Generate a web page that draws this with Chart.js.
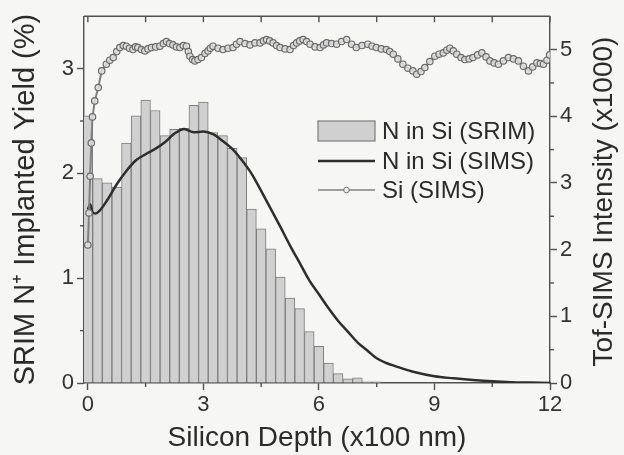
<!DOCTYPE html>
<html>
<head>
<meta charset="utf-8">
<script src="https://cdn.jsdelivr.net/npm/chart.js@4.4.1/dist/chart.umd.min.js"></script>
<style>
  html, body { margin: 0; padding: 0; background: #f6f6f4; }
  #wrap { width: 624px; height: 455px; position: relative; }
</style>
</head>
<body>
<div id="wrap"><canvas id="chart"></canvas></div>
<script>
// ========== DATA ==========

// SRIM histogram, 25 nm bins (x100 nm)
const srimDepth = [0, 0.25, 0.5, 0.75, 1, 1.25, 1.5, 1.75, 2, 2.25, 2.5, 2.75, 3, 3.25, 3.5, 3.75,
  4, 4.25, 4.5, 4.75, 5, 5.25, 5.5, 5.75, 6, 6.25, 6.5, 6.75, 7, 7.25, 7.5];
const srimYield = [2.55, 1.95, 1.91, 1.87, 2.29, 2.55, 2.70, 2.60, 2.36, 2.42, 2.43, 2.65, 2.68, 2.39, 2.36, 2.24,
  2.15, 1.66, 1.47, 1.28, 1.01, 0.81, 0.71, 0.49, 0.35, 0.19, 0.09, 0.04, 0.05, 0.01, 0.01];

// N in Si, Tof-SIMS (x1000 counts)
const nSimsDepth = [0, 0.06, 0.12, 0.2, 0.3, 0.5, 0.75, 1, 1.25, 1.5, 1.75, 2, 2.25, 2.5, 2.75, 3, 3.25,
  3.5, 3.75, 4, 4.25, 4.5, 4.75, 5, 5.25, 5.5, 5.75, 6, 6.25, 6.5, 6.75, 7, 7.25, 7.5, 7.75, 8,
  8.5, 9, 9.5, 10, 10.5, 11, 11.5, 12];
const nSimsIntensity = [2.60, 2.68, 2.56, 2.54, 2.58, 2.74, 2.98, 3.18, 3.34, 3.43, 3.51, 3.61, 3.74, 3.81, 3.76, 3.77, 3.73,
  3.63, 3.51, 3.34, 3.14, 2.88, 2.61, 2.34, 2.06, 1.80, 1.54, 1.33, 1.12, 0.93, 0.77, 0.61, 0.49, 0.37, 0.30, 0.25,
  0.16, 0.10, 0.07, 0.045, 0.025, 0.012, 0.006, 0.0];

// Si, Tof-SIMS (x1000 counts)
const siDepth = [0, 0.03, 0.06, 0.09, 0.12, 0.18, 0.27, 0.36, 0.48, 0.57, 0.66, 0.75, 0.83, 0.92, 1.0, 1.08,
  1.17, 1.24, 1.3, 1.39, 1.48, 1.56, 1.65, 1.76, 1.87, 1.96, 2.04, 2.12, 2.21, 2.3, 2.39, 2.48,
  2.56, 2.61, 2.65, 2.72, 2.78, 2.86, 2.95, 3.04, 3.12, 3.18, 3.25, 3.38, 3.51, 3.64, 3.77, 3.86,
  3.95, 4.08, 4.21, 4.34, 4.47, 4.56, 4.64, 4.72, 4.81, 4.9, 4.99, 5.12, 5.25, 5.34, 5.42, 5.5,
  5.59, 5.68, 5.77, 5.9, 6.03, 6.12, 6.2, 6.33, 6.46, 6.59, 6.72, 6.85, 6.97, 7.12, 7.27, 7.38,
  7.49, 7.62, 7.75, 7.84, 7.93, 8.05, 8.18, 8.31, 8.44, 8.54, 8.65, 8.75, 8.88, 9.01, 9.12, 9.23,
  9.32, 9.4, 9.49, 9.58, 9.69, 9.79, 9.9, 10.0, 10.12, 10.23, 10.34, 10.44, 10.55, 10.66, 10.79, 10.92,
  11.05, 11.18, 11.31, 11.44, 11.55, 11.66, 11.75, 11.83, 11.92, 11.99];
const siIntensity = [2.07, 2.55, 3.10, 3.60, 3.99, 4.23, 4.43, 4.68, 4.78, 4.84, 4.88, 4.97, 5.03, 5.06, 5.05, 5.02,
  5.00, 5.04, 5.03, 5.00, 4.98, 5.01, 5.03, 5.04, 5.05, 5.09, 5.12, 5.09, 5.07, 5.04, 5.03, 5.06,
  5.05, 4.97, 4.90, 4.85, 4.83, 4.85, 4.88, 4.94, 4.98, 5.02, 5.05, 5.02, 5.00, 5.02, 5.03, 5.08,
  5.12, 5.09, 5.07, 5.10, 5.10, 5.13, 5.15, 5.13, 5.10, 5.06, 5.03, 5.01, 5.00, 5.06, 5.10, 5.13,
  5.15, 5.12, 5.08, 5.04, 5.03, 5.07, 5.10, 5.09, 5.08, 5.12, 5.15, 5.08, 5.03, 5.06, 5.08, 5.05,
  5.03, 5.01, 5.00, 4.97, 4.93, 4.86, 4.78, 4.72, 4.68, 4.63, 4.67, 4.73, 4.82, 4.90, 4.93, 4.95,
  4.99, 5.02, 4.98, 4.93, 4.88, 4.85, 4.86, 4.88, 4.92, 4.95, 4.89, 4.83, 4.80, 4.78, 4.83, 4.88,
  4.86, 4.83, 4.75, 4.68, 4.74, 4.80, 4.79, 4.78, 4.84, 4.92];

// tick positions
const xTicks = [0, 3, 6, 9, 12];
const xMinorTicks = [1.5, 4.5, 7.5, 10.5];
const topTicks = [0, 1.5, 3, 4.5, 6, 7.5, 9, 10.5, 12];
const yTicks = [0, 1, 2, 3];
const yMinorTicks = [0.5, 1.5, 2.5];
const y1Ticks = [0, 1, 2, 3, 4, 5];
const y1MinorTicks = [0.5, 1.5, 2.5, 3.5, 4.5];

const legendLabels = ['N in Si (SRIM)', 'N in Si (SIMS)', 'Si (SIMS)'];

// ========== STYLE ==========

const FONT = '"Liberation Sans", Arial, sans-serif';
const axisColor = '#505050';
const textColor = '#2b2b2b';
const barFill = '#d0d0d0';
const barEdge = '#7d7d7d';
const nLineColor = '#2e2e2e';
const siLineColor = '#808080';

Chart.defaults.font.family = FONT;
Chart.defaults.color = textColor;

function toPoints(xs, ys) {
  return xs.map((x, i) => ({ x: x, y: ys[i] }));
}

function line(ctx, x1, y1, x2, y2) {
  ctx.beginPath();
  ctx.moveTo(x1, y1);
  ctx.lineTo(x2, y2);
  ctx.stroke();
}

// top frame, minor ticks, right-hand title
const framePlugin = {
  id: 'frame',
  afterDatasetsDraw(chart) {
    const { ctx, chartArea: a, scales: { x, y, y1 } } = chart;
    ctx.save();
    ctx.strokeStyle = axisColor;
    ctx.lineWidth = 1.4;
    line(ctx, a.left, a.top, a.right, a.top);
    topTicks.forEach(v => {
      const px = x.getPixelForValue(v);
      line(ctx, px, a.top, px, a.top + 6);
    });
    xMinorTicks.forEach(v => {
      const px = x.getPixelForValue(v);
      line(ctx, px, a.bottom, px, a.bottom + 4);
    });
    yMinorTicks.forEach(v => {
      const py = y.getPixelForValue(v);
      line(ctx, a.left - 4, py, a.left, py);
    });
    y1MinorTicks.forEach(v => {
      const py = y1.getPixelForValue(v);
      line(ctx, a.right, py, a.right + 4, py);
    });

    // right title reads bottom-to-top like the left one
    ctx.translate(604, (a.top + a.bottom) / 2 + 2);
    ctx.rotate(-Math.PI / 2);
    ctx.fillStyle = textColor;
    ctx.font = '28px ' + FONT;
    ctx.textAlign = 'center';
    ctx.textBaseline = 'middle';
    ctx.fillText('Tof-SIMS Intensity (x1000)', 0, 0);
    ctx.restore();
  }
};

// legend inside the plot area
const legendPlugin = {
  id: 'insideLegend',
  afterDraw(chart) {
    const { ctx } = chart;
    const x0 = 318, x1 = 375, tx = 382;
    const rows = [131, 161, 190];
    ctx.save();
    // SRIM swatch
    ctx.fillStyle = barFill;
    ctx.fillRect(x0, rows[0] - 10, x1 - x0, 20);
    ctx.strokeStyle = barEdge;
    ctx.lineWidth = 1.2;
    ctx.strokeRect(x0, rows[0] - 10, x1 - x0, 20);
    // N SIMS line
    ctx.strokeStyle = nLineColor;
    ctx.lineWidth = 2.5;
    line(ctx, x0, rows[1], x1, rows[1]);
    // Si line + marker
    ctx.strokeStyle = siLineColor;
    ctx.lineWidth = 1.3;
    line(ctx, x0, rows[2], x1, rows[2]);
    ctx.beginPath();
    ctx.arc((x0 + x1) / 2, rows[2], 2.8, 0, Math.PI * 2);
    ctx.fillStyle = '#eeeeee';
    ctx.fill();
    ctx.strokeStyle = '#6e6e6e';
    ctx.lineWidth = 1;
    ctx.stroke();

    ctx.fillStyle = textColor;
    ctx.font = '24px ' + FONT;
    ctx.textAlign = 'left';
    ctx.textBaseline = 'middle';
    legendLabels.forEach((t, i) => ctx.fillText(t, tx, rows[i] + 1));
    ctx.restore();
  }
};

// ========== CHART ==========

const ctx = document.getElementById('chart');

new Chart(ctx, {
  type: 'bar',
  data: {
    datasets: [{
      type: 'line',
      label: legendLabels[2],
      data: toPoints(siDepth, siIntensity),
      yAxisID: 'y1',
      borderColor: siLineColor,
      borderWidth: 2,
      pointRadius: 3.2,
      pointBorderWidth: 1.2,
      pointBorderColor: '#6a6a6a',
      pointBackgroundColor: 'rgba(225,225,225,0.85)',
      tension: 0,
      order: 1
    }, {
      type: 'line',
      label: legendLabels[1],
      data: toPoints(nSimsDepth, nSimsIntensity),
      yAxisID: 'y1',
      borderColor: nLineColor,
      borderWidth: 2.5,
      pointRadius: 0,
      cubicInterpolationMode: 'monotone',
      order: 2
    }, {
      type: 'bar',
      label: legendLabels[0],
      data: toPoints(srimDepth, srimYield),
      yAxisID: 'y',
      backgroundColor: barFill,
      borderColor: barEdge,
      borderWidth: 1,
      barPercentage: 1,
      categoryPercentage: 1,
      order: 3
    }]
  },
  options: {
    responsive: true,
    maintainAspectRatio: false,
    animation: false,
    layout: { padding: { top: 12, left: 0, right: 0, bottom: 0 } },
    plugins: {
      legend: { display: false },
      tooltip: { enabled: false }
    },
    scales: {
      x: {
        type: 'linear',
        min: -0.1,
        max: 12,
        offset: false,
        afterBuildTicks: s => { s.ticks = xTicks.map(v => ({ value: v })); },
        afterFit: s => { s.height = 72; },
        grid: { drawOnChartArea: false, offset: false, tickLength: 7, tickColor: axisColor, tickWidth: 1.4 },
        border: { display: true, color: axisColor, width: 1.4 },
        ticks: { color: '#333', font: { size: 22 }, padding: 2, maxRotation: 0, autoSkip: false },
        title: { display: true, text: 'Silicon Depth (x100 nm)', color: textColor, font: { size: 28 }, padding: 0 }
      },
      y: {
        position: 'left',
        min: 0,
        max: 3.5,
        afterBuildTicks: s => { s.ticks = yTicks.map(v => ({ value: v })); },
        afterFit: s => { s.width = 84; },
        grid: { drawOnChartArea: false, tickLength: 7, tickColor: axisColor, tickWidth: 1.4 },
        border: { display: true, color: axisColor, width: 1.4 },
        ticks: { color: '#333', font: { size: 22 }, padding: 3 },
        title: { display: true, text: 'SRIM N\u207A Implanted Yield (%)', color: textColor, font: { size: 29 }, padding: { top: 9, bottom: 0 } }
      },
      y1: {
        position: 'right',
        min: 0,
        max: 5.5,
        afterBuildTicks: s => { s.ticks = y1Ticks.map(v => ({ value: v })); },
        afterFit: s => { s.width = 74; },
        grid: { drawOnChartArea: false, tickLength: 7, tickColor: axisColor, tickWidth: 1.4 },
        border: { display: true, color: axisColor, width: 1.4 },
        ticks: { color: '#333', font: { size: 22 }, padding: 3 }
      }
    }
  },
  plugins: [framePlugin, legendPlugin]
});
</script>
</body>
</html>
